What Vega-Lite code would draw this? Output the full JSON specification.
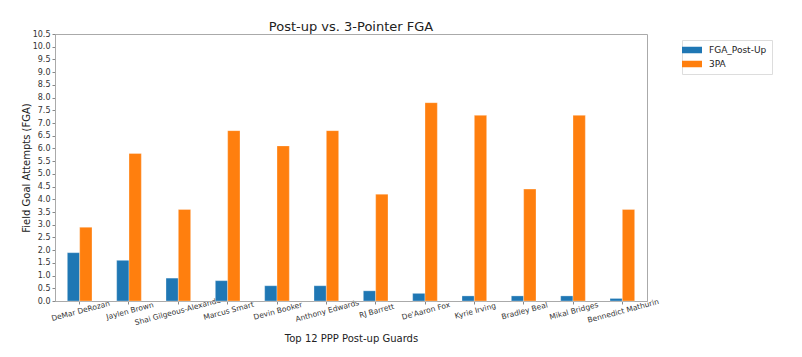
{
  "$schema": "https://vega.github.io/schema/vega-lite/v6.json",
  "autosize": {"type": "none"},
  "width": 592,
  "height": 267,
  "padding": {"left": 55, "top": 34, "right": 155, "bottom": 56},
  "background": "white",
  "title": {"text": "Post-up vs. 3-Pointer FGA", "fontSize": 13, "font": "DejaVu Sans", "fontWeight": "normal", "color": "#222", "offset": -4},
  "data": {"values": [
    {"player": "DeMar DeRozan", "metric": "FGA_Post-Up", "value": 1.9},
    {"player": "DeMar DeRozan", "metric": "3PA", "value": 2.9},
    {"player": "Jaylen Brown", "metric": "FGA_Post-Up", "value": 1.6},
    {"player": "Jaylen Brown", "metric": "3PA", "value": 5.8},
    {"player": "Shai Gilgeous-Alexander", "metric": "FGA_Post-Up", "value": 0.9},
    {"player": "Shai Gilgeous-Alexander", "metric": "3PA", "value": 3.6},
    {"player": "Marcus Smart", "metric": "FGA_Post-Up", "value": 0.8},
    {"player": "Marcus Smart", "metric": "3PA", "value": 6.7},
    {"player": "Devin Booker", "metric": "FGA_Post-Up", "value": 0.6},
    {"player": "Devin Booker", "metric": "3PA", "value": 6.1},
    {"player": "Anthony Edwards", "metric": "FGA_Post-Up", "value": 0.6},
    {"player": "Anthony Edwards", "metric": "3PA", "value": 6.7},
    {"player": "RJ Barrett", "metric": "FGA_Post-Up", "value": 0.4},
    {"player": "RJ Barrett", "metric": "3PA", "value": 4.2},
    {"player": "De'Aaron Fox", "metric": "FGA_Post-Up", "value": 0.3},
    {"player": "De'Aaron Fox", "metric": "3PA", "value": 7.8},
    {"player": "Kyrie Irving", "metric": "FGA_Post-Up", "value": 0.2},
    {"player": "Kyrie Irving", "metric": "3PA", "value": 7.3},
    {"player": "Bradley Beal", "metric": "FGA_Post-Up", "value": 0.2},
    {"player": "Bradley Beal", "metric": "3PA", "value": 4.4},
    {"player": "Mikal Bridges", "metric": "FGA_Post-Up", "value": 0.2},
    {"player": "Mikal Bridges", "metric": "3PA", "value": 7.3},
    {"player": "Bennedict Mathurin", "metric": "FGA_Post-Up", "value": 0.1},
    {"player": "Bennedict Mathurin", "metric": "3PA", "value": 3.6}
  ]},
  "mark": {"type": "bar", "stroke": "white", "strokeWidth": 0.5, "strokeOpacity": 0.6},
  "encoding": {
    "x": {
      "field": "player", "type": "nominal", "sort": null,
      "scale": {"paddingInner": 0.5, "paddingOuter": 0.25},
      "axis": {"title": "Top 12 PPP Post-up Guards", "labelAngle": -15, "labelAlign": "center", "labelBaseline": "top", "labelPadding": 3, "labelFontSize": 7.5, "titlePadding": 7}
    },
    "xOffset": {"field": "metric", "type": "nominal", "sort": ["FGA_Post-Up", "3PA"], "scale": {"paddingInner": 0, "paddingOuter": 0}},
    "y": {
      "field": "value", "type": "quantitative",
      "scale": {"domain": [0, 10.5], "nice": false},
      "axis": {"title": "Field Goal Attempts (FGA)", "values": [0,0.5,1,1.5,2,2.5,3,3.5,4,4.5,5,5.5,6,6.5,7,7.5,8,8.5,9,9.5,10,10.5], "format": ".1f", "grid": false, "titlePadding": 1}
    },
    "color": {
      "field": "metric", "type": "nominal",
      "scale": {"domain": ["FGA_Post-Up", "3PA"], "range": ["#1f77b4", "#ff7f0e"]},
      "legend": {"title": null, "orient": "none", "legendX": 627, "legendY": 6, "symbolType": "M-2,-0.65L2,-0.65L2,0.65L-2,0.65Z", "symbolSize": 100, "symbolStrokeWidth": 0, "labelFontSize": 9, "labelFont": "DejaVu Sans", "labelColor": "#222", "fillColor": "white", "strokeColor": "#ddd", "padding": 5, "rowPadding": 4, "labelOffset": 12}
    }
  },
  "config": {
    "view": {"stroke": "#aaa", "strokeWidth": 1},
    "axis": {"labelFont": "DejaVu Sans", "titleFont": "DejaVu Sans", "labelFontSize": 8, "titleFontSize": 10, "titleFontWeight": "normal", "labelColor": "#333", "titleColor": "#222", "domainColor": "#aaa", "tickColor": "#888", "tickSize": 3}
  }
}
